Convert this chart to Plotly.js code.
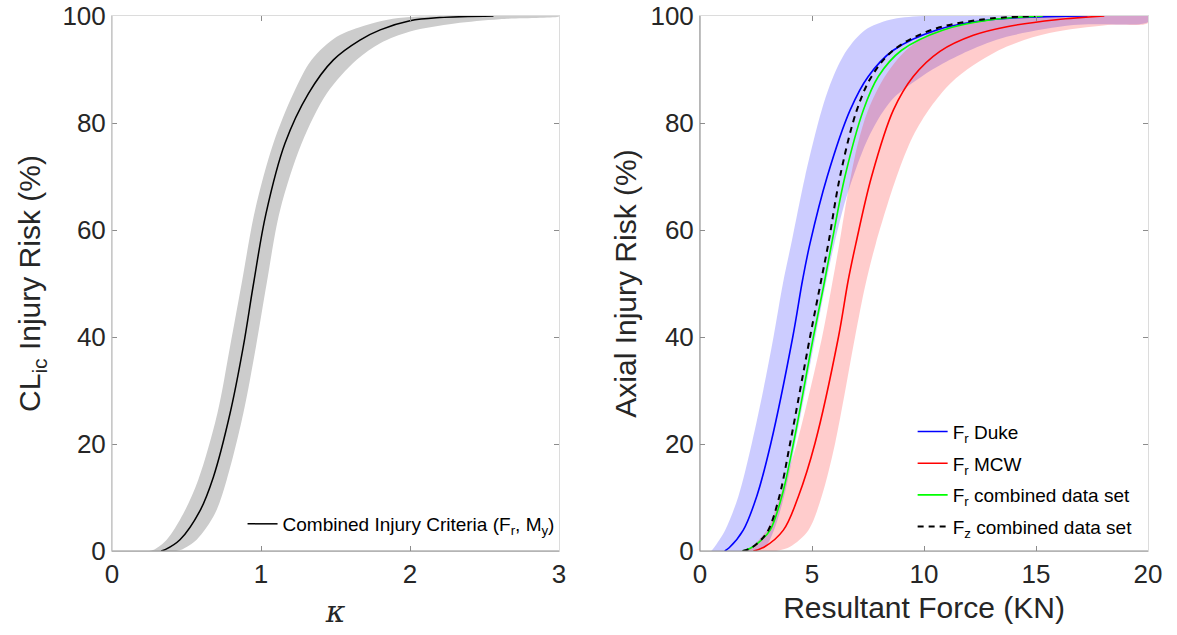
<!DOCTYPE html>
<html>
<head>
<meta charset="utf-8">
<script src="https://cdn.plot.ly/plotly-3.0.1.min.js"></script>
<style>html,body{margin:0;padding:0;background:#fff}#chart{width:1177px;height:635px}</style>
</head>
<body>
<div id="chart"></div>
<script>
// ---------- Left panel: CL_ic injury risk vs kappa ----------
const kappaLine = [0.33, 0.36, 0.456, 0.59, 0.68, 0.792, 0.881, 0.95, 1.033, 1.161, 1.318, 1.486, 1.664, 1.80, 2.0, 2.2, 2.56];
const riskLine  = [0, 0.3, 2.1, 7.5, 13.8, 25.7, 38.2, 50.0, 63.0, 76.2, 85.5, 91.8, 95.5, 97.4, 99.1, 99.7, 100];

const kappaBandHi = [0.25, 0.285, 0.367, 0.479, 0.579, 0.707, 0.792, 0.87, 0.96, 1.083, 1.217, 1.34, 1.508, 1.709, 1.85, 2.0, 2.3, 3.0];
const riskBandHi  = [0, 0.3, 2.1, 7.0, 13.3, 25.7, 38.2, 50.0, 63.7, 76.2, 85.5, 91.8, 96.1, 98.3, 99.3, 99.8, 100, 100];
const kappaBandLo = [0.43, 0.47, 0.568, 0.691, 0.77, 0.881, 0.966, 1.038, 1.128, 1.273, 1.441, 1.642, 1.8, 2.0, 2.3, 2.6, 3.0];
const riskBandLo  = [0, 0.3, 2.1, 7.0, 13.3, 25.7, 38.2, 50.0, 63.7, 76.2, 85.5, 91.8, 94.9, 97.1, 98.6, 99.4, 99.9];

// ---------- Right panel: axial injury risk vs resultant force ----------
const dukeF = [1.1, 1.3, 1.93, 2.53, 3.16, 4.14, 4.58, 4.91, 5.68, 6.70, 7.51, 8.63, 10.57, 12.95, 17.3];
const dukeR = [0, 0.6, 3.9, 10.2, 20.1, 40, 50.7, 57.5, 70, 82.4, 88.7, 93.6, 97.4, 99.3, 100];
const dukeBandHiF = [0.5, 0.62, 1.12, 1.71, 2.31, 2.82, 3.28, 3.70, 4.10, 4.69, 5.43, 5.95, 6.55, 7.37, 8.48, 9.96, 20];
const dukeBandHiR = [0, 0.6, 3.9, 10.2, 20.1, 30, 40, 50, 58, 70, 82.4, 88.7, 93.6, 97.4, 99.3, 100, 100];
const dukeBandLoF = [2.2, 2.9, 3.3, 3.75, 4.25, 5.15, 5.65, 6.0, 6.6, 7.6, 8.6, 9.93, 10.71, 12.0, 13.69, 16.66, 20];
const dukeBandLoR = [0, 0.8, 3.9, 10.2, 20.1, 40, 50.7, 57.5, 67, 78, 84.5, 88.8, 90.8, 93.5, 96.1, 98.3, 98.9];

const mcwF = [2.38, 2.85, 3.72, 4.39, 5.13, 6.18, 6.62, 6.96, 7.66, 8.63, 9.52, 10.71, 12.2, 13.7, 15.9, 18.05];
const mcwR = [0, 0.7, 3.9, 10.2, 20.1, 40, 50.7, 57.5, 70, 82.4, 88.7, 93.4, 96.4, 98.0, 99.3, 100];
const mcwBandHiF = [1.9, 2.25, 2.98, 3.57, 4.32, 5.45, 5.9, 6.22, 6.62, 7.05, 7.5, 8.25, 9.2, 10.57, 12.5, 15, 20];
const mcwBandHiR = [0, 0.7, 3.9, 10.2, 20.1, 40, 50, 57.5, 67.5, 76.2, 82.4, 88.7, 93.6, 97.4, 99.3, 100, 100];
const mcwBandLoF = [3.4, 4.02, 4.84, 5.43, 6.03, 6.92, 7.37, 7.85, 8.78, 9.5, 10.3, 11.2, 12.2, 13.7, 15.6, 18.2, 20];
const mcwBandLoR = [0, 0.8, 3.9, 10.2, 20.1, 40, 49.5, 57.5, 70, 77.5, 83, 87.5, 90.8, 94.3, 96.8, 98.3, 98.7];

const combFrF = [1.9, 2.25, 2.7, 3.13, 3.65, 4.17, 5.06, 5.54, 5.88, 6.47, 7.29, 7.96, 9.0, 10.86, 13.0, 15.3];
const combFrR = [0, 0.5, 1.9, 3.9, 10.2, 20.1, 40, 50, 57.5, 70, 82.4, 88.7, 93.6, 97.4, 99.3, 100];
const combFzF = [1.9, 2.25, 2.68, 3.05, 3.54, 4.02, 4.91, 5.38, 5.73, 6.25, 7.0, 7.66, 8.63, 10.34, 12.5, 14.96];
const combFzR = [0, 0.5, 1.9, 3.9, 10.2, 20.1, 40, 50, 57.5, 70, 82.4, 88.7, 93.6, 97.4, 99.3, 100];

const yTicks = [0, 20, 40, 60, 80, 100];
const xTicksLeft = [0, 1, 2, 3];
const xTicksRight = [0, 5, 10, 15, 20];

function band(xHi, yHi, xLo, yLo) {
  return { x: xHi.concat(xLo.slice().reverse()), y: yHi.concat(yLo.slice().reverse()) };
}

const gb = band(kappaBandHi, riskBandHi, kappaBandLo, riskBandLo);
const bb = band(dukeBandHiF, dukeBandHiR, dukeBandLoF, dukeBandLoR);
const rb = band(mcwBandHiF, mcwBandHiR, mcwBandLoF, mcwBandLoR);

const sm = {shape: 'spline', smoothing: 1.0};
const smBand = {width: 0, shape: 'spline', smoothing: 0.9};

const traces = [
  {x: gb.x, y: gb.y, xaxis: 'x', yaxis: 'y', type: 'scatter', mode: 'lines', fill: 'toself',
   fillcolor: '#cccccc', line: smBand, showlegend: false, hoverinfo: 'skip'},
  {x: kappaLine, y: riskLine, xaxis: 'x', yaxis: 'y', type: 'scatter', mode: 'lines',
   line: Object.assign({color: '#000000', width: 1.5}, sm), name: 'Combined Injury Criteria (F<sub>r</sub>, M<sub>y</sub>)', legend: 'legend2'},

  {x: bb.x, y: bb.y, xaxis: 'x2', yaxis: 'y2', type: 'scatter', mode: 'lines', fill: 'toself',
   fillcolor: 'rgba(0,0,255,0.2)', line: smBand, showlegend: false, hoverinfo: 'skip'},
  {x: rb.x, y: rb.y, xaxis: 'x2', yaxis: 'y2', type: 'scatter', mode: 'lines', fill: 'toself',
   fillcolor: 'rgba(255,0,0,0.2)', line: smBand, showlegend: false, hoverinfo: 'skip'},
  {x: dukeF, y: dukeR, xaxis: 'x2', yaxis: 'y2', type: 'scatter', mode: 'lines', legendgroup: 'g1',
   line: Object.assign({color: '#0000ff', width: 1.6}, sm), name: 'F<sub>r</sub> Duke'},
  {x: mcwF, y: mcwR, xaxis: 'x2', yaxis: 'y2', type: 'scatter', mode: 'lines', legendgroup: 'g2',
   line: Object.assign({color: '#ff0000', width: 1.6}, sm), name: 'F<sub>r</sub> MCW'},
  {x: combFrF, y: combFrR, xaxis: 'x2', yaxis: 'y2', type: 'scatter', mode: 'lines', legendgroup: 'g3',
   line: Object.assign({color: '#00ff00', width: 1.6}, sm), name: 'F<sub>r</sub> combined data set'},
  {x: combFzF, y: combFzR, xaxis: 'x2', yaxis: 'y2', type: 'scatter', mode: 'lines', legendgroup: 'g4',
   line: Object.assign({color: '#000000', width: 2, dash: '6px,5px'}, sm), name: 'F<sub>z</sub> combined data set'}
];

const tickFont = {family: 'Liberation Sans, Arial, sans-serif', size: 26, color: '#262626'};
const titleFont = {family: 'Liberation Sans, Arial, sans-serif', size: 30, color: '#262626'};
const legFont = {family: 'Liberation Sans, Arial, sans-serif', size: 19, color: '#000000'};

function axisCommon() {
  return {showgrid: false, zeroline: false, showline: true, linecolor: '#dcdcdc', linewidth: 1,
          mirror: 'ticks', ticks: 'inside', ticklen: 5, tickcolor: '#8c8c8c', tickwidth: 1,
          tickfont: tickFont, fixedrange: true};
}

const layout = {
  width: 1177, height: 635,
  margin: {l: 112, r: 29, t: 16, b: 84},
  paper_bgcolor: '#ffffff', plot_bgcolor: '#ffffff',
  showlegend: true,
  xaxis: Object.assign(axisCommon(), {domain: [0, 0.4315], range: [0, 3], tickvals: xTicksLeft, anchor: 'y',
    title: {text: '<i>κ</i>', font: {family: 'DejaVu Serif, serif', size: 30, color: '#262626'}, standoff: 12}}),
  yaxis: Object.assign(axisCommon(), {domain: [0, 1], range: [0, 100], tickvals: yTicks, anchor: 'x',
    title: {text: 'CL<sub>ic</sub> Injury Risk (%)', font: titleFont, standoff: 12}}),
  xaxis2: Object.assign(axisCommon(), {domain: [0.5676, 1], range: [0, 20], tickvals: xTicksRight, anchor: 'y2',
    title: {text: 'Resultant Force (KN)', font: titleFont, standoff: 8}}),
  yaxis2: Object.assign(axisCommon(), {domain: [0, 1], range: [0, 100], tickvals: yTicks, anchor: 'x2',
    title: {text: 'Axial Injury Risk (%)', font: titleFont, standoff: 4}}),
  legend: {x: 0.99, y: 0.01, xanchor: 'right', yanchor: 'bottom', bgcolor: 'rgba(0,0,0,0)', borderwidth: 0,
    font: legFont, itemwidth: 30, tracegroupgap: 4},
  legend2: {x: 0.432, y: 0.015, xanchor: 'right', yanchor: 'bottom', bgcolor: 'rgba(0,0,0,0)', borderwidth: 0,
    font: {family: 'Liberation Sans, Arial, sans-serif', size: 19, color: '#000000'}, itemwidth: 30},
  shapes: [
    {type: 'line', xref: 'x domain', yref: 'y domain', x0: 0, x1: 1, y0: 0, y1: 0, line: {color: '#8c8c8c', width: 1}},
    {type: 'line', xref: 'x domain', yref: 'y domain', x0: 0, x1: 0, y0: 0, y1: 1, line: {color: '#b4b4b4', width: 1}},
    {type: 'line', xref: 'x2 domain', yref: 'y2 domain', x0: 0, x1: 1, y0: 0, y1: 0, line: {color: '#8c8c8c', width: 1}},
    {type: 'line', xref: 'x2 domain', yref: 'y2 domain', x0: 0, x1: 0, y0: 0, y1: 1, line: {color: '#8c8c8c', width: 1}}
  ]
};

Plotly.newPlot('chart', traces, layout, {displayModeBar: false, staticPlot: true});
</script>
</body>
</html>
